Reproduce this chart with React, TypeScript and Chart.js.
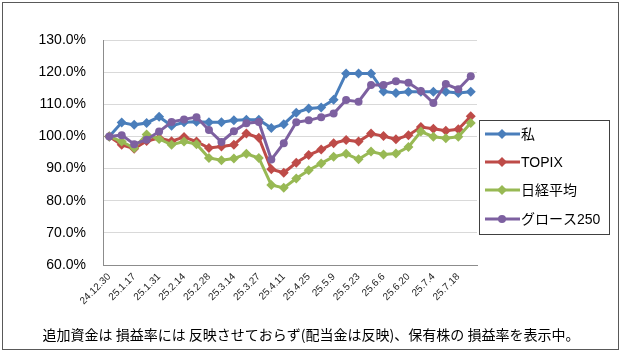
import React, { useEffect, useRef } from "react";
import { Chart, registerables } from "chart.js";

Chart.register(...registerables);

const categories = [
  "24.12.30", "25.1.10", "25.1.17", "25.1.24", "25.1.31", "25.2.7", "25.2.14", "25.2.21",
  "25.2.28", "25.3.7", "25.3.14", "25.3.21", "25.3.27", "25.4.4", "25.4.11", "25.4.18",
  "25.4.25", "25.5.2", "25.5.9", "25.5.16", "25.5.23", "25.5.30", "25.6.6", "25.6.13",
  "25.6.20", "25.6.27", "25.7.4", "25.7.11", "25.7.18", "25.7.25",
];

const mine = [
  100, 104.3, 103.6, 104.2, 106.1, 103.3, 104.4, 104.6, 104.4, 104.4,
  105.0, 105.2, 105.2, 102.6, 103.8, 107.4, 108.7, 109.0, 111.4, 119.6,
  119.6, 119.6, 114.0, 113.5, 113.9, 113.9, 113.9, 113.9, 113.5, 113.9,
];
const topix = [
  100, 97.4, 96.2, 98.6, 99.5, 98.5, 99.8, 98.4, 96.4, 96.9,
  97.4, 100.9, 99.6, 89.8, 88.7, 91.8, 94.2, 95.9, 97.9, 98.9,
  98.4, 100.9, 100.1, 99.1, 100.4, 102.9, 102.4, 101.8, 102.2, 106.3,
];
const nikkei = [
  100, 98.4, 96.4, 100.6, 99.2, 97.4, 98.4, 97.6, 93.3, 92.6,
  93.1, 94.6, 93.3, 84.9, 84.0, 86.9, 89.5, 91.6, 93.7, 94.6,
  92.9, 95.3, 94.4, 94.7, 96.7, 101.5, 99.9, 99.4, 99.9, 104.2,
];
const growth = [
  100, 100.4, 97.6, 99.0, 101.5, 104.5, 105.3, 106.0, 102.0, 98.3,
  101.6, 104.1, 104.5, 92.8, 97.9, 104.4, 105.0, 106.0, 107.1, 111.3,
  110.8, 116.0, 116.0, 117.2, 116.7, 114.1, 110.4, 116.3, 114.7, 118.7,
];

const seriesNames = ["私", "TOPIX", "日経平均", "グロース250"];
const seriesColors = ["#4A7EBB", "#BE4B48", "#98B954", "#7D60A0"];
const seriesMarkers = ["rectRot", "rectRot", "rectRot", "circle"];

const yTicksMin = 60;
const yTicksMax = 130;
const yTickStep = 10;

const caption = "追加資金は 損益率には 反映させておらず(配当金は反映)、保有株の 損益率を表示中。";

const decorPlugin = {
  id: "decor",
  afterDraw(chart: any) {
    const ctx = chart.ctx;
    ctx.save();
    // outer border
    ctx.strokeStyle = "#595959";
    ctx.lineWidth = 1;
    ctx.strokeRect(2.5, 2.5, 616, 347);

    // legend box
    const lx = 479.5, ly = 120.5, lw = 130, lh = 114;
    ctx.fillStyle = "#ffffff";
    ctx.fillRect(lx, ly, lw, lh);
    ctx.strokeStyle = "#404040";
    ctx.strokeRect(lx, ly, lw, lh);
    const rows = [134, 162, 190, 219];
    chart.data.datasets.forEach((ds: any, i: number) => {
      const y = rows[i];
      ctx.strokeStyle = ds.borderColor;
      ctx.lineWidth = 3;
      ctx.beginPath();
      ctx.moveTo(485, y);
      ctx.lineTo(520, y);
      ctx.stroke();
      ctx.fillStyle = ds.borderColor;
      ctx.beginPath();
      if (ds.pointStyle === "circle") {
        ctx.arc(502, y, 4, 0, Math.PI * 2);
      } else {
        ctx.moveTo(502, y - 5);
        ctx.lineTo(507, y);
        ctx.lineTo(502, y + 5);
        ctx.lineTo(497, y);
        ctx.closePath();
      }
      ctx.fill();
      ctx.fillStyle = "#000000";
      ctx.font = "14px 'Liberation Sans', 'Noto Sans CJK JP'";
      ctx.textAlign = "left";
      ctx.textBaseline = "middle";
      ctx.fillText(ds.label, 521, y + 1);
    });

    // caption
    ctx.fillStyle = "#000000";
    ctx.font = "14px 'Noto Sans CJK JP'";
    ctx.textAlign = "center";
    ctx.textBaseline = "middle";
    ctx.fillText(caption, 311, 335);
    ctx.restore();
  },
};

export default function App() {
  const ref = useRef<HTMLCanvasElement>(null);
  useEffect(() => {
    document.body.style.margin = "0";
    const canvas = ref.current!;
    const allSeries = [mine, topix, nikkei, growth];
    const chart = new Chart(canvas, {
      type: "line",
      data: {
        labels: categories,
        datasets: allSeries.map((vals, i) => ({
          label: seriesNames[i],
          data: vals,
          order: allSeries.length - 1 - i,
          borderColor: seriesColors[i],
          backgroundColor: seriesColors[i],
          borderWidth: 3,
          pointStyle: seriesMarkers[i] as any,
          pointRadius: seriesMarkers[i] === "circle" ? 4 : 5,
          pointBorderWidth: 0,
          tension: 0,
        })),
      },
      options: {
        animation: false,
        responsive: false,
        maintainAspectRatio: false,
        layout: { padding: { left: 0, right: 145, top: 40, bottom: 0 } },
        plugins: {
          legend: { display: false },
          tooltip: { enabled: false },
        },
        scales: {
          x: {
            type: "category",
            offset: true,
            grid: { display: false, drawTicks: false },
            border: { color: "#8c8c8c", width: 1 },
            ticks: {
              autoSkip: false,
              maxRotation: 45,
              minRotation: 45,
              padding: 6,
              color: "#262626",
              font: { size: 10, family: "'Liberation Sans', sans-serif" },
              callback: (_v: any, i: number) => (i % 2 === 0 ? categories[i] : ""),
            },
            afterFit: (scale: any) => {
              scale.height = 92;
            },
          },
          y: {
            min: yTicksMin,
            max: yTicksMax,
            grid: { color: "#D9D9D9", drawTicks: false },
            border: { color: "#8c8c8c", width: 1 },
            ticks: {
              stepSize: yTickStep,
              padding: 17,
              color: "#000000",
              font: { size: 14, family: "'Liberation Sans', sans-serif" },
              callback: (v: any) => Number(v).toFixed(1) + "%",
            },
            afterFit: (scale: any) => {
              scale.width = 103;
            },
          },
        },
      },
      plugins: [decorPlugin],
    });
    return () => chart.destroy();
  }, []);
  return (
    <div style={{ position: "absolute", left: 0, top: 0, width: 622, height: 357 }}>
      <canvas ref={ref} width={622} height={357} style={{ display: "block", width: 622, height: 357 }} />
    </div>
  );
}
